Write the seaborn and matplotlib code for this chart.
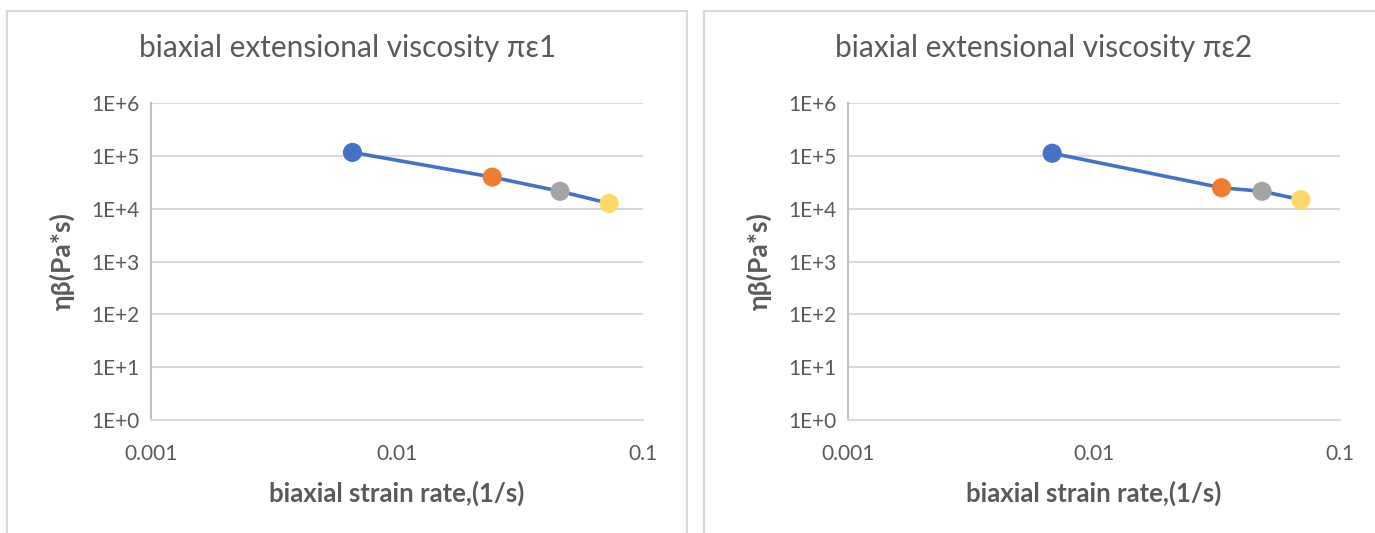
import matplotlib
matplotlib.use("Agg")
import matplotlib.pyplot as plt
import seaborn as sns
import pandas as pd
from matplotlib.patches import Rectangle
from matplotlib.ticker import FixedLocator, NullLocator

# Measured data: biaxial strain rate (1/s) and biaxial extensional viscosity (Pa*s)
titles = ["biaxial extensional viscosity \u03c0\u03b51", "biaxial extensional viscosity \u03c0\u03b52"]
rate_pe1 = [0.00659, 0.0244, 0.0460, 0.0728]
visc_pe1 = [1.16e5, 3.96e4, 2.13e4, 1.26e4]
rate_pe2 = [0.00676, 0.0330, 0.0482, 0.0693]
visc_pe2 = [1.12e5, 2.49e4, 2.13e4, 1.48e4]
point_ids = ["p1", "p2", "p3", "p4"]
x_ticks = [0.001, 0.01, 0.1]
x_tick_labels = ["0.001", "0.01", "0.1"]
y_ticks = [1e0, 1e1, 1e2, 1e3, 1e4, 1e5, 1e6]
y_tick_labels = ["1E+0", "1E+1", "1E+2", "1E+3", "1E+4", "1E+5", "1E+6"]
x_label = "biaxial strain rate,(1/s)"
y_label = "\u03b7\u03b2(Pa*s)"

line_color = "#4472C4"
point_colors = ["#4472C4", "#ED7D31", "#A5A5A5", "#FFD966"]
text_gray = "#595959"
grid_gray = "#D9D9D9"
axis_gray = "#BFBFBF"

sns.set_theme(style="white")
plt.rcParams["font.family"] = ["Lato", "DejaVu Sans"]

W, H = 1375, 533
fig = plt.figure(figsize=(W / 100, H / 100), dpi=100)
fig.patch.set_facecolor("white")

def fx(px):
    return px / W

def fy(py):
    return 1 - py / H

# chart frames
for x0, x1 in [(7, 687), (704, 1400)]:
    fig.patches.append(Rectangle((fx(x0), fy(560)), fx(x1 - x0), (560 - 11) / H,
                                 transform=fig.transFigure, fill=False,
                                 edgecolor=grid_gray, linewidth=1.5, zorder=0))

panels = [
    (rate_pe1, visc_pe1, titles[0], 151, 643, 348),
    (rate_pe2, visc_pe2, titles[1], 848, 1340, 1044),
]

for rates, viscs, title, left, right, title_x in panels:
    top, bottom = 103, 420
    ax = fig.add_axes([fx(left), fy(bottom), fx(right - left), (bottom - top) / H])
    df = pd.DataFrame({"rate": rates, "visc": viscs, "pt": point_ids})
    ax.set_xscale("log")
    ax.set_yscale("log")
    sns.lineplot(data=df, x="rate", y="visc", ax=ax, color=line_color,
                 linewidth=2.6, sort=False, zorder=3, legend=False)
    sns.scatterplot(data=df, x="rate", y="visc", hue="pt", palette=point_colors,
                    ax=ax, s=190, edgecolor="none", linewidth=0, zorder=4, legend=False)
    ax.set_xlim(0.001, 0.1)
    ax.set_ylim(1, 1e6)
    ax.xaxis.set_major_locator(FixedLocator(x_ticks))
    ax.set_xticklabels(x_tick_labels)
    ax.yaxis.set_major_locator(FixedLocator(y_ticks))
    ax.set_yticklabels(y_tick_labels)
    ax.xaxis.set_minor_locator(NullLocator())
    ax.yaxis.set_minor_locator(NullLocator())
    ax.grid(False)
    ax.yaxis.grid(True, color=grid_gray, linewidth=1.5)
    for side in ["top", "right"]:
        ax.spines[side].set_visible(False)
    ax.spines["bottom"].set_color(grid_gray)
    ax.spines["bottom"].set_linewidth(1.5)
    ax.spines["left"].set_color(axis_gray)
    ax.spines["left"].set_linewidth(1.5)
    ax.tick_params(axis="both", length=0, labelsize=15, labelcolor=text_gray)
    ax.tick_params(axis="x", pad=17)
    ax.tick_params(axis="y", pad=8)
    ax.set_xlabel(x_label, fontsize=18.5, fontweight="bold", color=text_gray, labelpad=12)
    ax.set_ylabel(y_label, fontsize=19, fontweight="bold", color=text_gray, labelpad=12)
    ax.set_facecolor("none")
    fig.text(fx(title_x), fy(48), title, ha="center", va="center",
             fontsize=21.5, color=text_gray)

fig.savefig("out.png", dpi=100, facecolor="white")
